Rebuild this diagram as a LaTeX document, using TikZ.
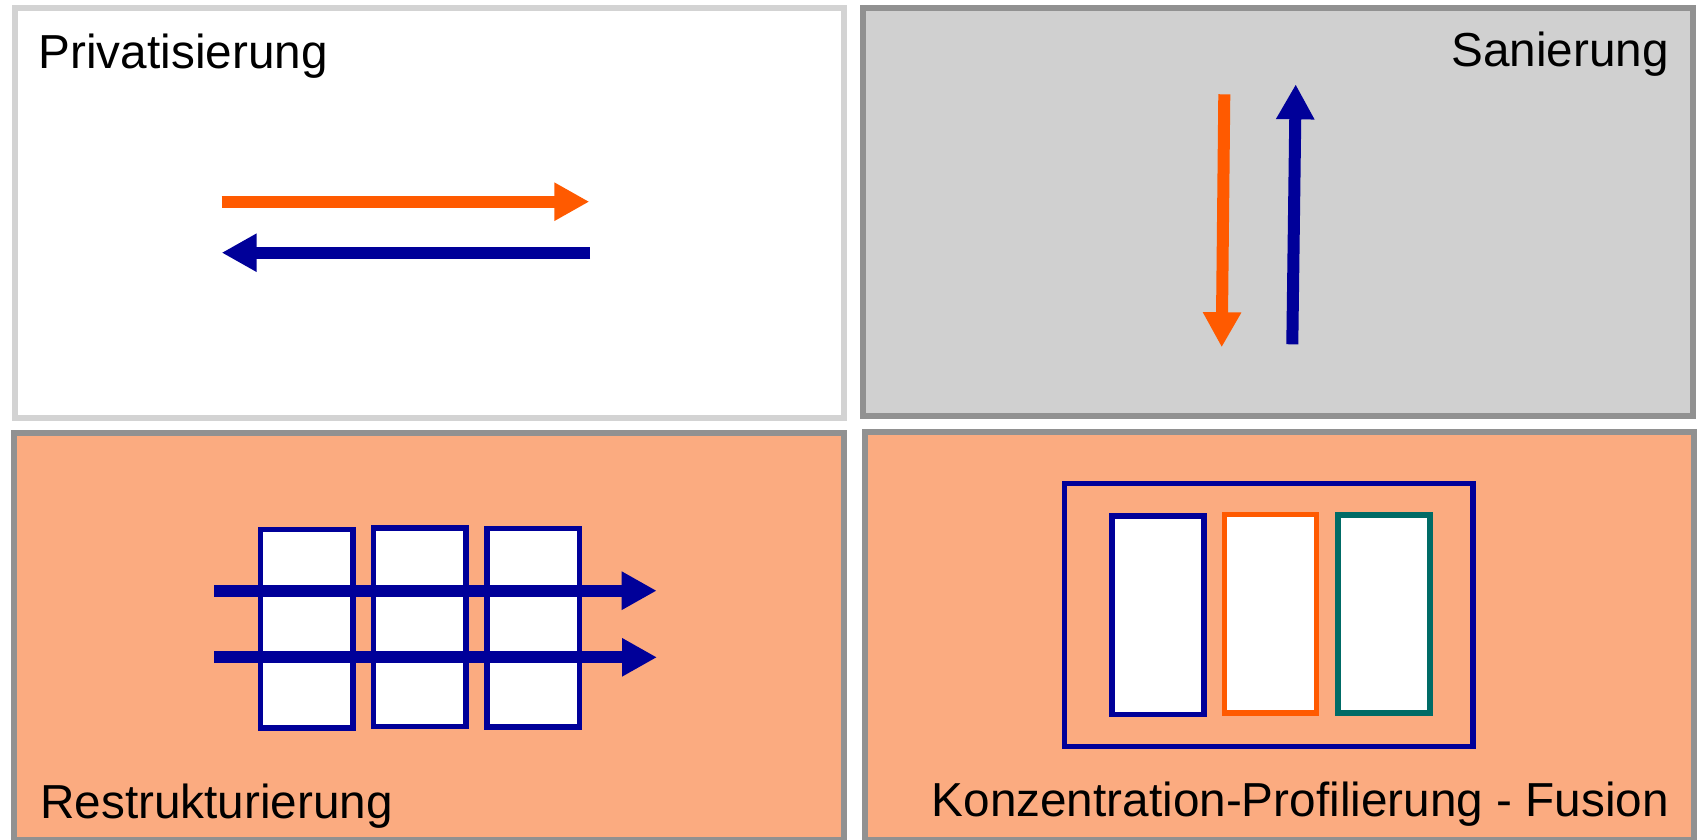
\documentclass[tikz,border=0pt]{standalone}
\usepackage{fontspec}
\setmainfont{Liberation Sans}
\usetikzlibrary{arrows.meta}
\definecolor{myorange}{HTML}{FF5A00}
\definecolor{myblue}{HTML}{000099}
\definecolor{mysalmon}{HTML}{FBAB80}
\definecolor{mygrayfill}{HTML}{D0D0D0}
\definecolor{mylightborder}{HTML}{D3D3D3}
\definecolor{mydarkborder}{HTML}{919191}
\definecolor{myteal}{HTML}{006B66}
\begin{document}
\begin{tikzpicture}[x=1pt,y=-1pt,
  panel/.style={draw=mydarkborder, line width=5.6pt, rectangle, inner sep=0pt},
  cell/.style={draw=myblue, fill=white, line width=5.7pt, rectangle, inner sep=0pt, minimum width=92.5pt, minimum height=198.5pt},
  bar/.style={line width=12pt, -{Triangle[length=35pt,width=36pt]}},
  label/.style={inner sep=0pt, font=\fontsize{47.7}{56}\selectfont, text=black}]
\useasboundingbox (0,0) rectangle (1700,840);
\fill[white] (0,0) rectangle (1700,840);
% panels
\node[panel, draw=mylightborder, fill=white, minimum width=829pt, minimum height=410pt] (p1) at (429.5,213) {};
\node[panel, fill=mygrayfill, minimum width=830pt, minimum height=408pt] (p2) at (1278,212) {};
\node[panel, fill=mysalmon, minimum width=830pt, minimum height=407pt] (p3) at (429,636.5) {};
\node[panel, fill=mysalmon, minimum width=829pt, minimum height=408pt] (p4) at (1279.5,636) {};
% labels
\node[label, anchor=base west] (t1) at (38.5,68.3) {Privatisierung};
\node[label, anchor=base east] (t2) at (1669,66.7) {Sanierung};
\node[label, anchor=base west] (t3) at (40,818.3) {Restrukturierung};
\node[label, anchor=base east] (t4) at (1669,816.7) {Konzentration-Profilierung - Fusion};
% panel 1 arrows
\coordinate (a1s) at (221.7,201.7);
\coordinate (a1e) at (589.3,201.7);
\coordinate (a2s) at (590,252.7);
\coordinate (a2e) at (221.7,252.7);
\draw[bar, myorange] (a1s) -- (a1e);
\draw[bar, myblue] (a2s) -- (a2e);
% panel 2 arrows
\coordinate (b1s) at (1224.3,94.3);
\coordinate (b1e) at (1221.7,347.3);
\coordinate (b2s) at (1292.3,344.3);
\coordinate (b2e) at (1295.7,84.3);
\draw[bar, myorange] (b1s) -- (b1e);
\draw[bar, myblue] (b2s) -- (b2e);
% panel 3 cells and arrows
\node[cell] (c1) at (306.75,628.75) {};
\node[cell] (c2) at (419.75,627.25) {};
\node[cell] (c3) at (533.25,627.75) {};
\coordinate (r1s) at (214,590.7);
\coordinate (r1e) at (656.7,590.7);
\coordinate (r2s) at (214,657.3);
\coordinate (r2e) at (657,657.3);
\draw[bar, myblue] (r1s) -- (r1e);
\draw[bar, myblue] (r2s) -- (r2e);
% panel 4 frames
\node[draw=myblue, line width=5.7pt, rectangle, inner sep=0pt, minimum width=408.5pt, minimum height=263pt] (f0) at (1268.75,615) {};
\node[cell] (f1) at (1158,615.25) {};
\node[cell, draw=myorange, minimum width=92pt] (f2) at (1270.5,613.75) {};
\node[cell, draw=myteal, minimum width=92pt, minimum height=198pt] (f3) at (1384,614) {};
\end{tikzpicture}
\end{document}
